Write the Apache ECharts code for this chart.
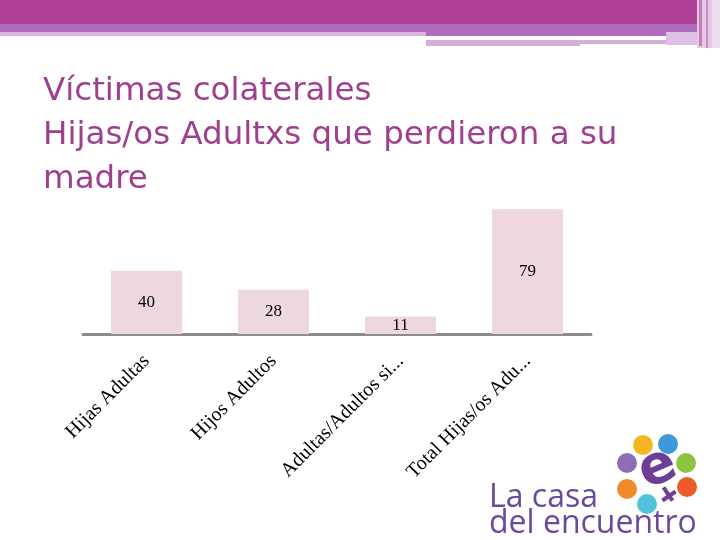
<!DOCTYPE html>
<html>
<head>
<meta charset="utf-8">
<script src="https://cdn.jsdelivr.net/npm/echarts@6/dist/echarts.min.js"></script>
<style>html,body{margin:0;padding:0;background:#fff;}#c{width:720px;height:540px;}</style>
</head>
<body>
<div id="c"></div>
<script>
var categories = ['Hijas Adultas', 'Hijos Adultos', 'Adultas/Adultos si...', 'Total Hijas/os Adu...'];
var values = [40, 28, 11, 79];
var titleLines = ['Víctimas colaterales', 'Hijas/os Adultxs que perdieron a su', 'madre'];

var chart = echarts.init(document.getElementById('c'), null, {renderer: 'canvas'});

var dots = [
  {cx: 643, cy: 445, c: '#F7B421'},
  {cx: 668, cy: 444, c: '#3C9AD8'},
  {cx: 627, cy: 463, c: '#8C6DB6'},
  {cx: 686, cy: 463, c: '#8DC540'},
  {cx: 627, cy: 489, c: '#F08A2C'},
  {cx: 687, cy: 487, c: '#EE5A2B'},
  {cx: 647, cy: 504, c: '#4FC3DA'}
];
var graphics = [
  {type: 'rect', shape: {x: 0, y: 0, width: 697, height: 24}, style: {fill: '#B13F98'}},
  {type: 'rect', shape: {x: 0, y: 24, width: 697, height: 8}, style: {fill: '#AE6BBF'}},
  {type: 'rect', shape: {x: 426, y: 32, width: 271, height: 4}, style: {fill: '#AE6BBF'}},
  {type: 'rect', shape: {x: 0, y: 32, width: 426, height: 4}, style: {fill: '#D8B6DE'}},
  {type: 'rect', shape: {x: 426, y: 40, width: 154, height: 6}, style: {fill: '#D4AEDA'}},
  {type: 'rect', shape: {x: 580, y: 40, width: 86, height: 4}, style: {fill: '#D4AEDA'}},
  {type: 'rect', shape: {x: 666, y: 32, width: 31, height: 13}, style: {fill: '#DDBFE3'}},
  {type: 'rect', shape: {x: 697, y: 0, width: 23, height: 48}, style: {fill: '#E6C9E4'}},
  {type: 'rect', shape: {x: 699, y: 0, width: 3, height: 46}, style: {fill: '#C27DB6'}},
  {type: 'rect', shape: {x: 706, y: 0, width: 2, height: 48}, style: {fill: '#C88CC0'}},
  {type: 'rect', shape: {x: 712, y: 0, width: 8, height: 48}, style: {fill: '#EEDCEE'}}
];
dots.forEach(function (d) {
  graphics.push({type: 'circle', shape: {cx: d.cx, cy: d.cy, r: 10}, style: {fill: d.c}});
});
graphics.push({type: 'text', x: 658, y: 469, rotation: 0.4, style: {text: 'e', font: 'bold 54px "DejaVu Sans"', fill: '#6E3E97', align: 'center', verticalAlign: 'middle'}});
graphics.push({type: 'rect', shape: {x: 666, y: 486, width: 4, height: 16}, rotation: 0.6, originX: 668, originY: 494, style: {fill: '#6E3E97'}});
graphics.push({type: 'rect', shape: {x: 661, y: 494, width: 16, height: 4}, rotation: 0.6, originX: 669, originY: 496, style: {fill: '#6E3E97'}});
graphics.push({type: 'text', style: {text: 'La casa', x: 489, y: 514, font: '32px "Open Sans"', fill: '#6B4A9B', align: 'left', verticalAlign: 'bottom'}});
graphics.push({type: 'text', style: {text: 'del encuentro', x: 489, y: 540, font: '32px "Open Sans"', fill: '#6B4A9B', align: 'left', verticalAlign: 'bottom'}});

chart.setOption({
  animation: false,
  backgroundColor: '#fff',
  title: {
    text: titleLines.join('\n'),
    left: 43,
    top: 70,
    padding: 0,
    textStyle: {fontFamily: 'DejaVu Sans', fontSize: 32.5, fontWeight: 'normal', color: '#9F408F', lineHeight: 44}
  },
  grid: {left: 83, right: 129, top: 176, bottom: 206, containLabel: false},
  xAxis: {
    type: 'category',
    data: categories,
    axisLine: {show: true, lineStyle: {color: '#8C8C8C', width: 3}},
    axisTick: {show: false},
    axisLabel: {rotate: 45, margin: 24, interval: 0, fontFamily: 'Liberation Serif', fontSize: 20, color: '#000'}
  },
  yAxis: {
    type: 'value', min: 0, max: 100,
    show: false,
    splitLine: {show: false}
  },
  series: [{
    type: 'bar',
    data: values,
    barWidth: 71,
    itemStyle: {color: '#EFD7E2'},
    label: {show: true, position: 'inside', fontFamily: 'Liberation Serif', fontSize: 17, color: '#000'}
  }],
  graphic: graphics
});
</script>
</body>
</html>
